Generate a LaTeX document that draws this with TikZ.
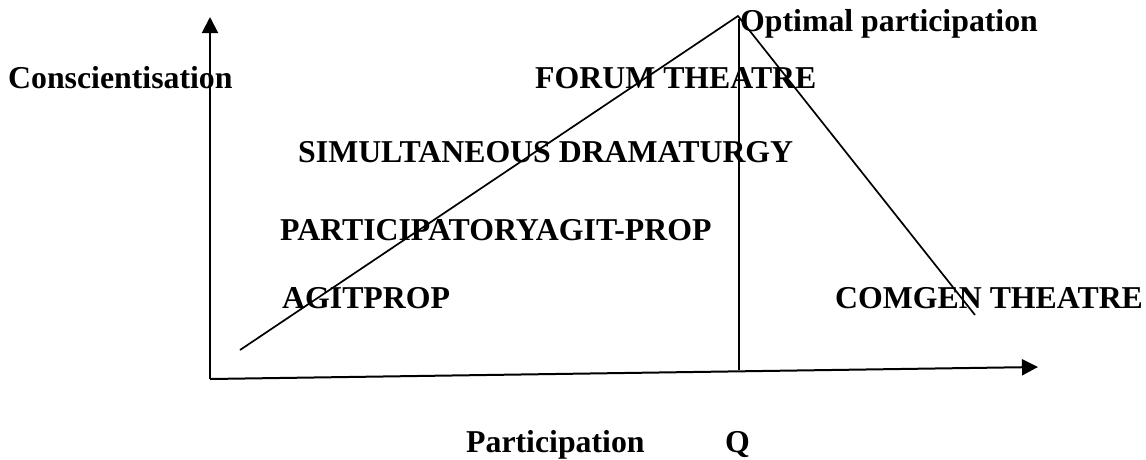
\documentclass[tikz,border=0pt]{standalone}
\usepackage{fontspec}
\setmainfont{Liberation Serif}
\usetikzlibrary{arrows.meta}
\begin{document}
\begin{tikzpicture}[x=1pt,y=-1pt,
  lbl/.style={anchor=base west,inner sep=0pt,font=\fontsize{31.8}{36}\selectfont\bfseries},
  axis/.style={line width=2pt,-{Triangle[length=16pt,width=16pt]}},
  edge/.style={line width=1.7pt}]
\useasboundingbox (0,0) rectangle (1146,459);
% axes and guide lines
\coordinate (o) at (210,379);
\coordinate (ytip) at (210,17);
\coordinate (xtip) at (1038,367);
\coordinate (apex) at (738,16);
\coordinate (dstart) at (240,350);
\coordinate (vtop) at (739,19);
\coordinate (vfoot) at (739,370);
\coordinate (rend) at (975,315);
\draw[axis] (o) -- (ytip);
\draw[axis] (o) -- (xtip);
\draw[edge] (dstart) -- (apex) -- (rend);
\draw[edge] (vtop) -- (vfoot);
% labels
\node[lbl] (opt) at (740,31) {Optimal participation};
\node[lbl] (consc) at (8,88) {Conscientisation};
\node[lbl] (forum) at (535,88) {FORUM THEATRE};
\node[lbl] (simul) at (298,162) {SIMULTANEOUS DRAMATURGY};
\node[lbl] (part) at (280,240) {PARTICIPATORYAGIT-PROP};
\node[lbl] (agit) at (282,308) {AGITPROP};
\node[lbl] (comgen) at (835,308) {COMGEN THEATRE};
\node[lbl] (xlab) at (466,452) {Participation};
\node[lbl] (q) at (725,452) {Q};
\end{tikzpicture}
\end{document}
